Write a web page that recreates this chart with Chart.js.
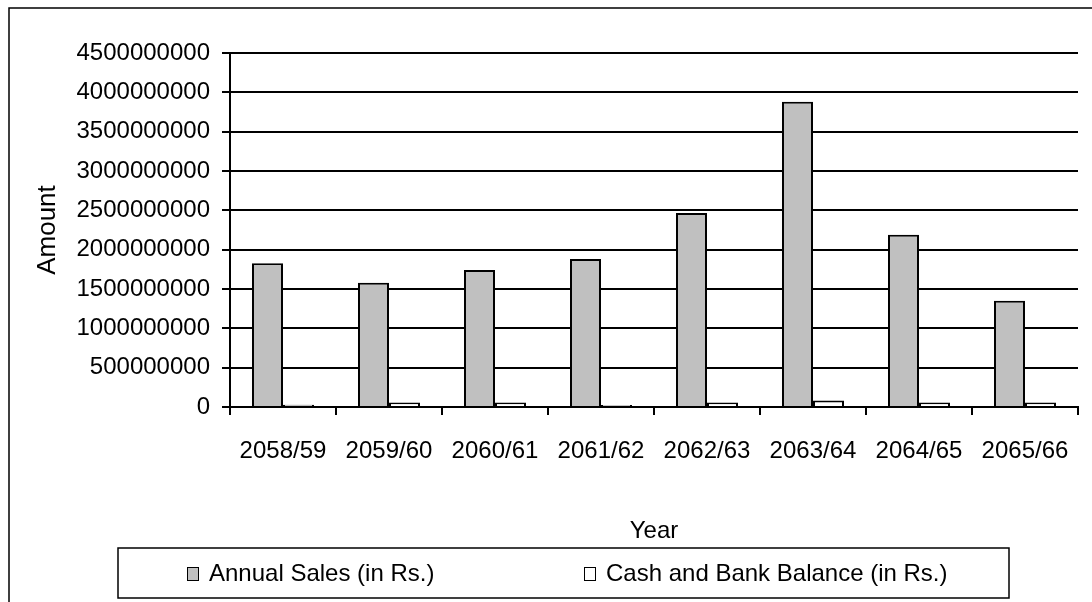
<!DOCTYPE html>
<html>
<head>
<meta charset="utf-8">
<title>Annual Sales and Cash and Bank Balance</title>
<script src="https://cdn.jsdelivr.net/npm/chart.js@4/dist/chart.umd.min.js"></script>
<style>
  html, body { margin: 0; padding: 0; background: #fff; }
  #wrap { width: 1092px; height: 602px; }
</style>
</head>
<body>
<div id="wrap"><canvas id="salesChart" width="1092" height="602"></canvas></div>
<script>
const YEARS = ['2058/59', '2059/60', '2060/61', '2061/62', '2062/63', '2063/64', '2064/65', '2065/66'];
const ANNUAL_SALES = [1826e6, 1579e6, 1741e6, 1881e6, 2465e6, 3879e6, 2190e6, 1351e6];
const CASH_BANK = [28e6, 58e6, 57e6, 27e6, 57e6, 82e6, 57e6, 57e6];
const Y_MAX = 4500000000;
const Y_STEP = 500000000;

const FONT = 'Liberation Sans, Arial, sans-serif';

// outer frame of the chart
const framePlugin = {
  id: 'frame',
  beforeDraw(chart) {
    const ctx = chart.ctx;
    ctx.save();
    ctx.fillStyle = '#fff';
    ctx.fillRect(0, 0, chart.width, chart.height);
    ctx.strokeStyle = '#000';
    ctx.lineWidth = 1.5;
    ctx.strokeRect(9, 8, chart.width + 20, chart.height + 20);
    ctx.restore();
  },
};

// boxed legend below the axis title, two items spread out like the spreadsheet legend
const boxLegendPlugin = {
  id: 'boxLegend',
  afterDraw(chart) {
    const ctx = chart.ctx;
    const box = { x: 118, y: 548, w: 891, h: 50 };
    ctx.save();
    ctx.strokeStyle = '#000';
    ctx.lineWidth = 1.5;
    ctx.strokeRect(box.x, box.y, box.w, box.h);

    ctx.font = '24px ' + FONT;
    ctx.textBaseline = 'middle';
    ctx.fillStyle = '#000';
    const midY = box.y + box.h / 2 + 1;
    const starts = [187, 584];
    chart.data.datasets.forEach((ds, i) => {
      const x = starts[i];
      ctx.fillStyle = ds.backgroundColor;
      ctx.fillRect(x, midY - 7, 11, 13);
      ctx.strokeStyle = '#000';
      ctx.lineWidth = 1;
      ctx.strokeRect(x + 0.5, midY - 6.5, 11, 13);
      ctx.fillStyle = '#000';
      ctx.fillText(ds.label, x + 22, midY);
    });
    ctx.restore();
  },
};

new Chart(document.getElementById('salesChart'), {
  type: 'bar',
  data: {
    labels: YEARS,
    datasets: [
      {
        label: 'Annual Sales (in Rs.)',
        data: ANNUAL_SALES,
        backgroundColor: '#c0c0c0',
        borderColor: '#000',
        borderWidth: 2,
        borderSkipped: 'bottom',
      },
      {
        label: 'Cash and Bank Balance (in Rs.)',
        data: CASH_BANK,
        backgroundColor: '#ffffff',
        borderColor: '#000',
        borderWidth: 2,
        borderSkipped: 'bottom',
      },
    ],
  },
  options: {
    responsive: false,
    animation: false,
    devicePixelRatio: 1,
    categoryPercentage: 0.585,
    barPercentage: 1,
    layout: {
      padding: { top: 53, right: 14, bottom: 55, left: 0 },
    },
    plugins: {
      legend: { display: false },
      tooltip: { enabled: false },
    },
    scales: {
      x: {
        grid: {
          offset: true,
          drawOnChartArea: false,
          drawTicks: true,
          tickLength: 8,
          color: '#000',
          lineWidth: 2,
        },
        border: { color: '#000', width: 2 },
        ticks: {
          color: '#000',
          font: { family: FONT, size: 24 },
          padding: 22,
          maxRotation: 0,
          autoSkip: false,
        },
        title: {
          display: true,
          text: 'Year',
          color: '#000',
          font: { family: FONT, size: 24 },
          padding: { top: 0, bottom: 1 },
        },
        afterFit: scale => { scale.height = 140; },
      },
      y: {
        min: 0,
        max: Y_MAX,
        grid: {
          color: '#000',
          lineWidth: 2,
          drawTicks: true,
          tickLength: 8,
        },
        border: { color: '#000', width: 2 },
        ticks: {
          stepSize: Y_STEP,
          color: '#000',
          font: { family: FONT, size: 24 },
          padding: 12,
          callback: value => String(value),
        },
        title: {
          display: true,
          text: 'Amount',
          color: '#000',
          font: { family: FONT, size: 26 },
          padding: { top: 32, bottom: 0 },
        },
        afterFit: scale => { scale.width = 230; },
      },
    },
  },
  plugins: [framePlugin, boxLegendPlugin],
});
</script>
</body>
</html>
